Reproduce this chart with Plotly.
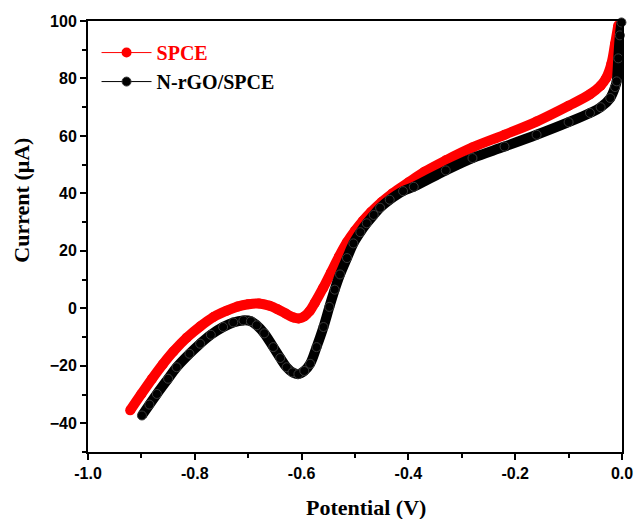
import plotly.graph_objects as go

spce_x = [-0.921, -0.90, -0.88, -0.86, -0.84, -0.815, -0.79, -0.765, -0.74, -0.72, -0.70, -0.68,
          -0.66, -0.645, -0.63, -0.615, -0.605, -0.595, -0.585, -0.575, -0.56, -0.545, -0.53,
          -0.515, -0.50, -0.485, -0.47, -0.45, -0.43, -0.40, -0.37, -0.33, -0.28, -0.22,
          -0.16, -0.10, -0.06, -0.04, -0.03, -0.02, -0.013, -0.007]
spce_y = [-35.5, -29.8, -24.5, -19.5, -15.0, -10.2, -6.3, -3.0, -0.8, 0.6, 1.4, 1.7,
          0.9, -0.3, -1.8, -3.2, -3.5, -2.8, -1.0, 2.0, 7.0, 12.5, 18.0,
          23.0, 27.0, 30.5, 33.5, 37.0, 40.0, 43.8, 47.5, 51.5, 56.0, 60.4,
          65.0, 70.5, 74.5, 77.5, 80.0, 85.0, 92.0, 98.5]

nrgo_x = [-0.899, -0.885, -0.871, -0.85, -0.834, -0.81, -0.79, -0.77, -0.747, -0.728, -0.709,
          -0.695, -0.684, -0.67, -0.653, -0.64, -0.628, -0.617, -0.606, -0.595, -0.584, -0.572,
          -0.559, -0.548, -0.538, -0.528, -0.515, -0.503, -0.49, -0.478, -0.465, -0.453, -0.435,
          -0.41, -0.39, -0.33, -0.28, -0.22, -0.16, -0.10, -0.06, -0.04, -0.022, -0.013, -0.010,
          -0.007, -0.004, -0.001]
nrgo_y = [-37.3, -33.5, -29.8, -24.5, -20.5, -15.8, -12.3, -9.2, -6.5, -4.9, -4.2,
          -4.5, -5.9, -8.7, -13.5, -17.3, -20.5, -22.3, -22.9, -21.8, -19.3, -13.5,
          -6.5, 0.5, 6.5, 11.8, 17.5, 22.6, 26.5, 29.6, 32.5, 35.0, 37.8,
          40.8, 42.3, 48.0, 52.3, 56.3, 60.4, 64.8, 68.0, 70.0, 73.2, 77.0, 79.0,
          87.0, 95.0, 99.5]

x_ticks = [-1.0, -0.8, -0.6, -0.4, -0.2, 0.0]
x_ticklabels = ["-1.0", "-0.8", "-0.6", "-0.4", "-0.2", "0.0"]
y_ticks = [-40, -20, 0, 20, 40, 60, 80, 100]

RED = "#ff0000"
BLACK = "#000000"

fig = go.Figure()

# thick bands
fig.add_trace(go.Scatter(x=spce_x, y=spce_y, mode="lines", showlegend=False,
                         line=dict(color=RED, width=10, shape="spline"), hoverinfo="skip"))
fig.add_trace(go.Scatter(x=spce_x, y=spce_y, mode="lines+markers",
                         name="<span style='color:#ff0000'>SPCE</span>",
                         line=dict(color=RED, width=1), cliponaxis=False,
                         marker=dict(symbol="circle", size=10, color=RED)))
fig.add_trace(go.Scatter(x=nrgo_x, y=nrgo_y, mode="lines", showlegend=False,
                         line=dict(color=BLACK, width=10, shape="spline"), hoverinfo="skip"))
fig.add_trace(go.Scatter(x=nrgo_x, y=nrgo_y, mode="lines+markers",
                         name="N-rGO/SPCE",
                         line=dict(color=BLACK, width=1), cliponaxis=False,
                         marker=dict(symbol="circle", size=9, color="#000000",
                                     line=dict(color="#3a3a3a", width=1))))

axis_common = dict(
    showline=True, linecolor="black", linewidth=2, mirror=True,
    ticks="outside", ticklen=6, tickwidth=2, tickcolor="black",
    showgrid=False, zeroline=False, automargin=False,
    tickfont=dict(family="Liberation Sans", size=16, color="black", weight="bold"),
)

fig.update_xaxes(range=[-1.0, 0.0], tickvals=x_ticks, ticktext=x_ticklabels,
                 minor=dict(ticks="outside", ticklen=4, tickwidth=2, tickcolor="black", dtick=0.1),
                 **axis_common)
fig.update_yaxes(range=[-50, 100], tickvals=y_ticks,
                 minor=dict(ticks="outside", ticklen=4, tickwidth=2, tickcolor="black", dtick=10,
                            tick0=0),
                 **axis_common)

fig.update_layout(
    width=634, height=519,
    margin=dict(l=88, r=12, t=21, b=67, autoexpand=False),
    paper_bgcolor="white", plot_bgcolor="white",
    showlegend=True,
    legend=dict(x=0.016, y=0.972, xanchor="left", yanchor="top",
                bgcolor="rgba(0,0,0,0)", itemwidth=50, tracegroupgap=0,
                font=dict(family="Liberation Serif", size=20, color="black", weight="bold")),
    annotations=[
        dict(text="Potential (V)", xref="paper", yref="paper", x=0.52, y=-0.162,
             xanchor="center", yanchor="bottom", showarrow=False,
             font=dict(family="Liberation Serif", size=22, color="black", weight="bold")),
        dict(text="Current (μA)", xref="paper", yref="paper", x=-0.124, y=0.585,
             xanchor="center", yanchor="middle", showarrow=False, textangle=-90,
             font=dict(family="Liberation Serif", size=22, color="black", weight="bold")),
    ],
)

fig.write_html("out.html")
